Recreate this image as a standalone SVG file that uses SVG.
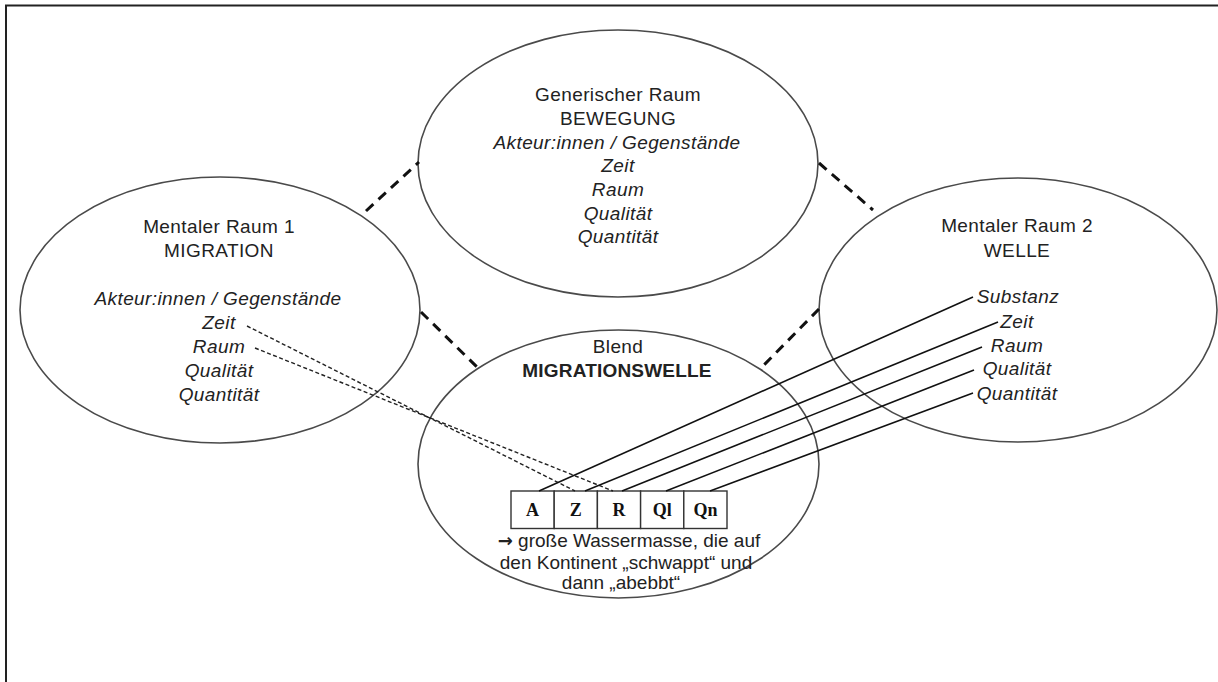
<svg xmlns="http://www.w3.org/2000/svg" width="1218" height="682" viewBox="0 0 1218 682">
<style>
.ell{fill:none;stroke:#4a4a4a;stroke-width:1.6}
.t{font-family:"Liberation Sans",Arial,sans-serif;font-size:19px;fill:#222;text-anchor:middle;letter-spacing:0.4px}
.n{letter-spacing:0}
.i{font-style:italic}
.b{font-weight:bold;letter-spacing:0.2px}
.cell{font-family:"Liberation Serif","Times New Roman",serif;font-size:18px;font-weight:bold;fill:#111;text-anchor:middle}
.thick{stroke:#111;stroke-width:3;stroke-dasharray:10 7;fill:none}
.thin{stroke:#222;stroke-width:1.4;stroke-dasharray:4 2.5;fill:none}
.solid{stroke:#111;stroke-width:1.6;fill:none}
</style>
<rect width="1218" height="682" fill="#fff"/>
<path d="M6,682 V5.5 H1218" fill="none" stroke="#222" stroke-width="2"/>

<g id="generic">
<ellipse class="ell" cx="618" cy="163.5" rx="200" ry="133.5"/>
<text class="t" x="618" y="101">Generischer Raum</text>
<text class="t" x="618" y="125">BEWEGUNG</text>
<text class="t i" x="617" y="149">Akteur:innen / Gegenstände</text>
<text class="t i" x="618" y="172">Zeit</text>
<text class="t i" x="618" y="196">Raum</text>
<text class="t i" x="618" y="220">Qualität</text>
<text class="t i" x="618" y="243">Quantität</text>
</g>

<g id="mental1">
<ellipse class="ell" cx="220" cy="310" rx="200" ry="133"/>
<text class="t" x="219" y="233">Mentaler Raum 1</text>
<text class="t" x="219" y="257">MIGRATION</text>
<text class="t i" x="218" y="305">Akteur:innen / Gegenstände</text>
<text class="t i" x="219" y="329">Zeit</text>
<text class="t i" x="219" y="353">Raum</text>
<text class="t i" x="219" y="377">Qualität</text>
<text class="t i" x="219" y="401">Quantität</text>
</g>

<g id="mental2">
<ellipse class="ell" cx="1018" cy="310" rx="199" ry="132"/>
<text class="t" x="1017" y="232">Mentaler Raum 2</text>
<text class="t" x="1017" y="257">WELLE</text>
<text class="t i" x="1018" y="303">Substanz</text>
<text class="t i" x="1017" y="328">Zeit</text>
<text class="t i" x="1017" y="352">Raum</text>
<text class="t i" x="1017" y="375">Qualität</text>
<text class="t i" x="1017" y="400">Quantität</text>
</g>

<g id="blend">
<ellipse class="ell" cx="618.5" cy="464" rx="200.5" ry="134"/>
<text class="t" x="618" y="353">Blend</text>
<text class="t b" x="617" y="377">MIGRATIONSWELLE</text>
<g fill="#fff" stroke="#333" stroke-width="1.4">
<rect x="511" y="491" width="43.2" height="37.5"/>
<rect x="554.2" y="491" width="43.2" height="37.5"/>
<rect x="597.4" y="491" width="43.2" height="37.5"/>
<rect x="640.6" y="491" width="43.2" height="37.5"/>
<rect x="683.8" y="491" width="43.2" height="37.5"/>
</g>
<text class="cell" x="532.6" y="516">A</text>
<text class="cell" x="575.8" y="516">Z</text>
<text class="cell" x="619" y="516">R</text>
<text class="cell" x="662.2" y="516">Ql</text>
<text class="cell" x="705.4" y="516">Qn</text>
<text class="t n" x="629" y="547"><tspan font-family="DejaVu Sans, sans-serif" font-size="18" font-weight="bold">→</tspan> große Wassermasse, die auf</text>
<text class="t n" x="626" y="569">den Kontinent „schwappt“ und</text>
<text class="t n" x="621" y="589">dann „abebbt“</text>
</g>

<g id="connectors">
<line class="thick" x1="366" y1="211" x2="419" y2="162"/>
<line class="thick" x1="819" y1="163" x2="873" y2="210"/>
<line class="thick" x1="421" y1="312" x2="478" y2="368"/>
<line class="thick" x1="819" y1="309" x2="762" y2="367"/>
<line class="thin" x1="247" y1="326" x2="575" y2="491"/>
<line class="thin" x1="255" y1="348" x2="613" y2="491"/>
<line class="solid" x1="973" y1="297" x2="539" y2="491"/>
<line class="solid" x1="998" y1="322" x2="585" y2="491"/>
<line class="solid" x1="982" y1="347" x2="622" y2="491"/>
<line class="solid" x1="974" y1="370" x2="666" y2="491"/>
<line class="solid" x1="973" y1="393" x2="710" y2="491"/>
</g>
</svg>
